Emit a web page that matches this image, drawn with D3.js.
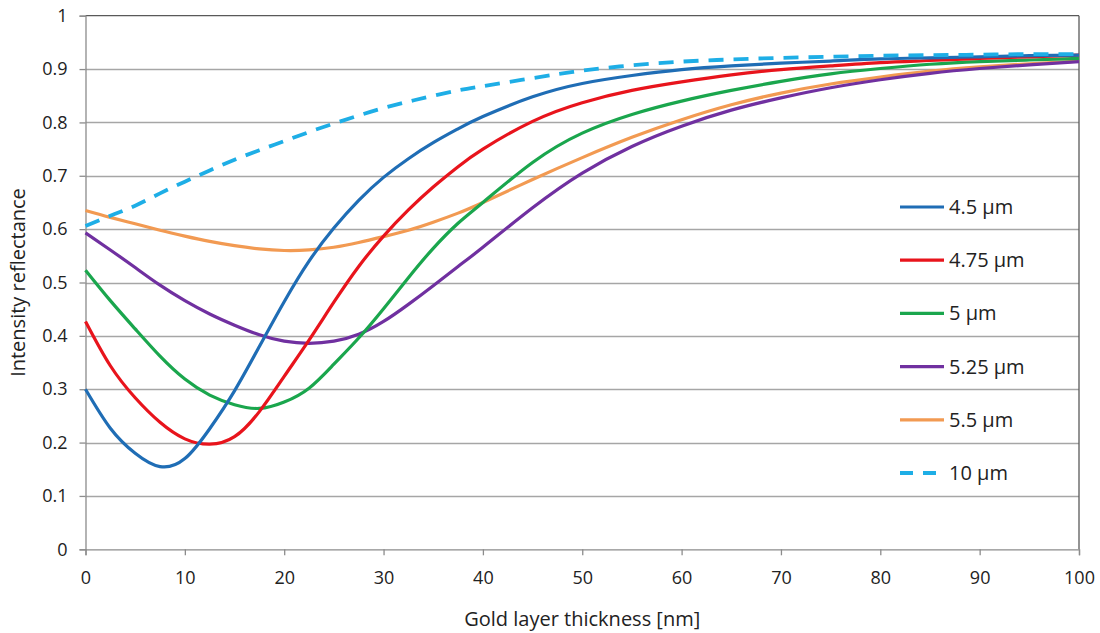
<!DOCTYPE html>
<html>
<head>
<meta charset="utf-8">
<script src="https://cdn.jsdelivr.net/npm/d3@7"></script>
<style>
  html, body { margin: 0; padding: 0; background: #ffffff; }
  svg { display: block; }
</style>
</head>
<body>
<svg id="chart" width="1100" height="633"></svg>
<script>
// ---- data ----
const thickness = [0,2.5,5,7.5,10,12.5,15,17.5,20,22.5,25,27.5,30,32.5,35,37.5,40,45,50,55,60,65,70,75,80,85,90,95,100];
const r45  = [0.300,0.227,0.180,0.155,0.170,0.226,0.297,0.380,0.464,0.540,0.602,0.654,0.697,0.732,0.762,0.788,0.811,0.848,0.873,0.888,0.899,0.906,0.911,0.915,0.919,0.921,0.923,0.925,0.926];
const r475 = [0.427,0.344,0.284,0.238,0.207,0.197,0.211,0.258,0.324,0.392,0.463,0.530,0.587,0.636,0.679,0.717,0.750,0.802,0.837,0.860,0.876,0.889,0.899,0.906,0.912,0.916,0.920,0.923,0.926];
const r5   = [0.523,0.466,0.413,0.362,0.319,0.289,0.271,0.264,0.276,0.302,0.347,0.396,0.451,0.509,0.564,0.611,0.650,0.725,0.780,0.815,0.840,0.860,0.877,0.891,0.901,0.909,0.914,0.917,0.920];
const r525 = [0.593,0.561,0.528,0.495,0.466,0.441,0.420,0.402,0.390,0.386,0.390,0.403,0.427,0.459,0.494,0.530,0.566,0.640,0.705,0.755,0.793,0.823,0.846,0.865,0.880,0.892,0.901,0.908,0.914];
const r55  = [0.635,0.622,0.610,0.598,0.587,0.577,0.569,0.563,0.560,0.561,0.566,0.575,0.586,0.598,0.613,0.630,0.650,0.693,0.734,0.772,0.805,0.833,0.855,0.872,0.885,0.896,0.904,0.910,0.915];
const r10  = [0.606,0.625,0.644,0.667,0.689,0.710,0.730,0.748,0.765,0.782,0.798,0.813,0.827,0.839,0.850,0.860,0.868,0.883,0.897,0.907,0.914,0.918,0.921,0.923,0.925,0.926,0.927,0.928,0.928];

const seriesNames  = ["4.5 µm","4.75 µm","5 µm","5.25 µm","5.5 µm","10 µm"];
const seriesValues = [r45, r475, r5, r525, r55, r10];
const seriesColors = ["#1f6db5","#e8141c","#1aa64d","#7030a0","#f29a52","#1eaee6"];
const seriesDashed = [false,false,false,false,false,true];

const xTicks = [0,10,20,30,40,50,60,70,80,90,100];
const yTicks = [0,0.1,0.2,0.3,0.4,0.5,0.6,0.7,0.8,0.9,1];
const xTitle = "Gold layer thickness [nm]";
const yTitle = "Intensity reflectance";

// ---- layout ----
const svg = d3.select("#chart");
const pL = 85.5, pR = 1079, pT = 15.7, pB = 549.3;
const x = d3.scaleLinear().domain([0,100]).range([pL,pR]);
const y = d3.scaleLinear().domain([0,1]).range([pB,pT]);
const font = "'Open Sans', sans-serif";
const textColor = "#222222";

// gridlines
svg.append("g").selectAll("line").data(yTicks.filter(d => d > 0 && d < 1)).join("line")
  .attr("x1", pL).attr("x2", pR)
  .attr("y1", d => Math.round(y(d)) + 0.5).attr("y2", d => Math.round(y(d)) + 0.5)
  .attr("stroke", "#a6a6a6").attr("stroke-width", 1.3);

// frame: top & right dark
svg.append("line").attr("x1", pL).attr("x2", pR).attr("y1", pT).attr("y2", pT)
  .attr("stroke", "#595959").attr("stroke-width", 1.3);
svg.append("line").attr("x1", pR).attr("x2", pR).attr("y1", pT).attr("y2", pB)
  .attr("stroke", "#595959").attr("stroke-width", 1.3);

// axes
const yAxis = d3.axisLeft(y).tickValues(yTicks).tickSize(6).tickPadding(12)
  .tickFormat(d => d === 0 ? "0" : d === 1 ? "1" : d3.format(".1f")(d));
const gy = svg.append("g").attr("transform", `translate(${pL},0)`).call(yAxis);
const xAxis = d3.axisBottom(x).tickValues(xTicks).tickSize(6).tickPadding(16).tickFormat(d3.format("d"));
const gx = svg.append("g").attr("transform", `translate(0,${pB})`).call(xAxis);
[gx, gy].forEach(g => {
  g.select(".domain").attr("stroke", "#8c8c8c").attr("stroke-width", 1.3);
  g.selectAll(".tick line").attr("stroke", "#8c8c8c").attr("stroke-width", 1.3);
  g.selectAll(".tick text").attr("fill", textColor).style("font-family", font).style("font-size", "18px");
});

// lines
const line = d3.line().x(d => x(d[0])).y(d => y(d[1])).curve(d3.curveNatural);
const order = [4,3,2,1,0,5];
order.forEach(i => {
  svg.append("path")
    .datum(thickness.map((t, j) => [t, seriesValues[i][j]]))
    .attr("d", line)
    .attr("fill", "none")
    .attr("stroke", seriesColors[i])
    .attr("stroke-width", seriesDashed[i] ? 3.8 : 3.2)
    .attr("stroke-dasharray", seriesDashed[i] ? "15,10" : null)
    .attr("stroke-linecap", "butt");
});

// legend
const legY0 = 207, legStep = 53.2;
const leg = svg.append("g");
seriesNames.forEach((name, i) => {
  const yy = legY0 + i * legStep;
  leg.append("line").attr("x1", 900).attr("x2", 944).attr("y1", yy).attr("y2", yy)
    .attr("stroke", seriesColors[i]).attr("stroke-width", seriesDashed[i] ? 3.8 : 3.2)
    .attr("stroke-dasharray", seriesDashed[i] ? "13,10" : null);
  leg.append("text").attr("x", 949).attr("y", yy).attr("dy", "0.35em")
    .attr("fill", textColor).style("font-family", font).style("font-size", "20px")
    .text(name);
});

// titles
svg.append("text").attr("x", (pL + pR) / 2).attr("y", 626).attr("text-anchor", "middle")
  .attr("fill", textColor).style("font-family", font).style("font-size", "20px").text(xTitle);
svg.append("text").attr("transform", `translate(25,${(pT + pB) / 2}) rotate(-90)`)
  .attr("text-anchor", "middle").attr("fill", textColor)
  .style("font-family", font).style("font-size", "20px").text(yTitle);
</script>
</body>
</html>
